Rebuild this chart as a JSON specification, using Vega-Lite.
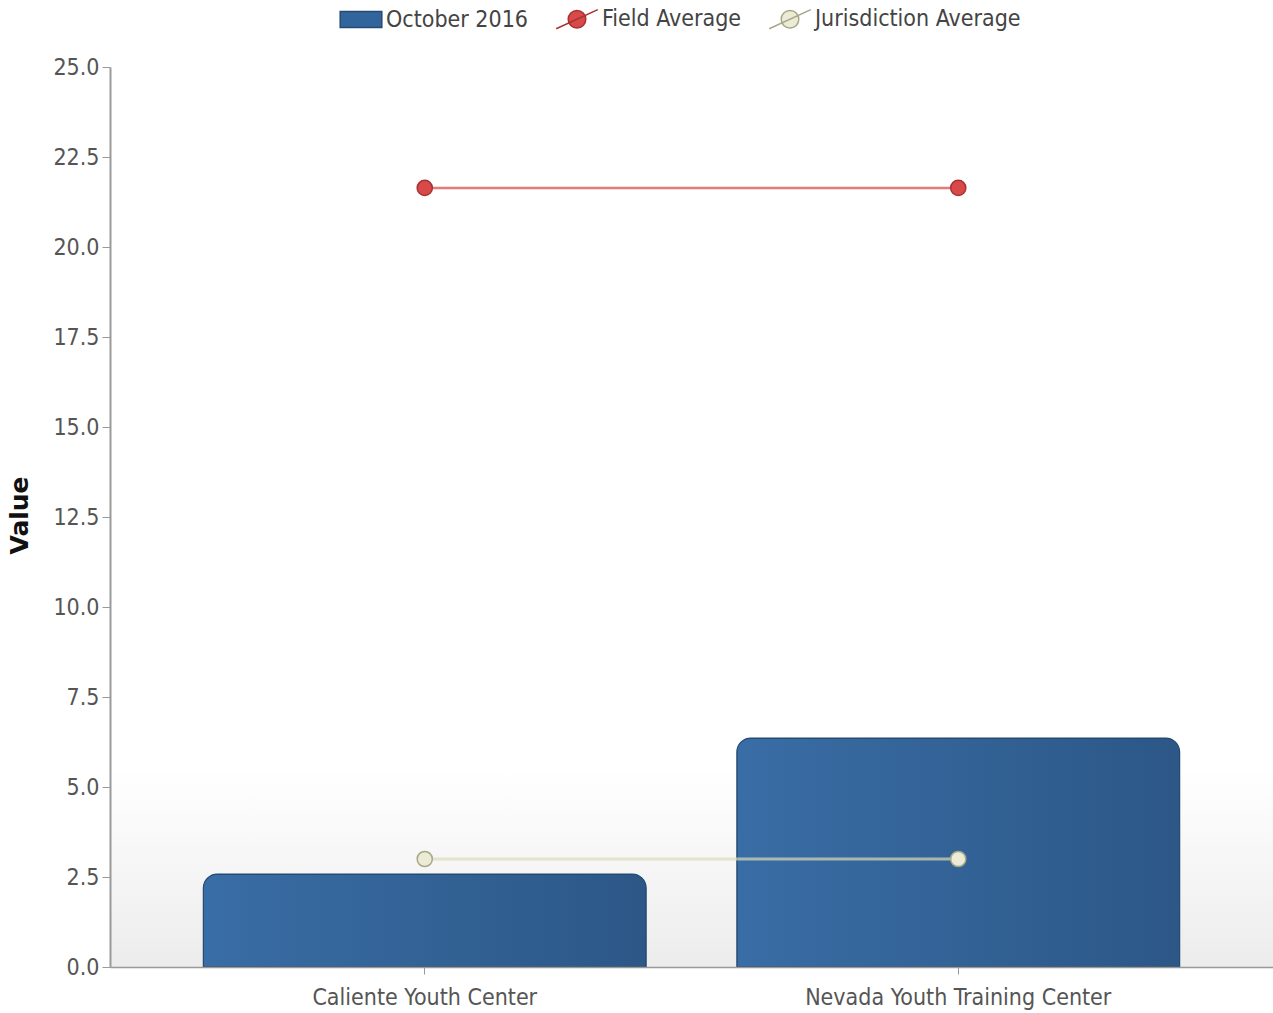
{
  "$schema": "https://vega.github.io/schema/vega-lite/v6.json",
  "width": 1163,
  "height": 900,
  "autosize": {"type": "none"},
  "padding": {"left": 110, "top": 67, "right": 0, "bottom": 46},
  "background": "white",
  "config": {
    "view": {"stroke": null},
    "font": "DejaVu Sans Condensed",
    "axis": {"labelFont": "DejaVu Sans Condensed", "labelColor": "#555555", "labelFontSize": 23, "labelLimit": 0, "domainColor": "#999999", "tickColor": "#999999", "grid": false, "zindex": 1}
  },
  "data": {
    "values": [
      {"facility": "Caliente Youth Center", "series": "October 2016", "value": 2.58},
      {"facility": "Nevada Youth Training Center", "series": "October 2016", "value": 6.36},
      {"facility": "Caliente Youth Center", "series": "Field Average", "value": 21.64},
      {"facility": "Nevada Youth Training Center", "series": "Field Average", "value": 21.64},
      {"facility": "Caliente Youth Center", "series": "Jurisdiction Average", "value": 3.0},
      {"facility": "Nevada Youth Training Center", "series": "Jurisdiction Average", "value": 3.0}
    ]
  },
  "layer": [
    {
      "data": {"values": [{"band": "background"}]},
      "mark": {"type": "rect", "color": {"gradient": "linear", "x1": 0, "y1": 0, "x2": 0, "y2": 1, "stops": [{"offset": 0, "color": "#ffffff"}, {"offset": 0.78, "color": "#ffffff"}, {"offset": 1, "color": "#ececec"}]}},
      "encoding": {
        "y": {"datum": 25, "type": "quantitative", "scale": {"domain": [0, 25], "nice": false}},
        "y2": {"datum": 0}
      }
    },
    {
      "transform": [{"filter": "datum.series === 'October 2016'"}],
      "mark": {"type": "bar", "color": {"gradient": "linear", "x1": 0, "y1": 0, "x2": 1, "y2": 0, "stops": [{"offset": 0, "color": "#396da5"}, {"offset": 1, "color": "#2c5787"}]}, "stroke": "#254a73", "strokeWidth": 1.2, "cornerRadiusTopLeft": 14, "cornerRadiusTopRight": 14},
      "encoding": {
        "x": {
          "field": "facility", "type": "nominal", "sort": null,
          "scale": {"paddingInner": 0.17, "paddingOuter": 0.175},
          "axis": {"title": null, "labelAngle": 0, "tickSize": 7, "labelPadding": 12, "domainWidth": 1.5, "zindex": 1}
        },
        "y": {
          "field": "value", "type": "quantitative",
          "scale": {"domain": [0, 25], "nice": false},
          "axis": {"title": "Value", "values": [0, 2.5, 5, 7.5, 10, 12.5, 15, 17.5, 20, 22.5, 25], "format": ".1f", "tickSize": 8, "labelPadding": 3, "titleFontSize": 25, "titleFont": "DejaVu Sans", "titleFontWeight": "bold", "titleColor": "#111111", "titleX": -91, "titleY": 448, "titleAngle": -90, "titleAlign": "center", "titleBaseline": "middle", "domainWidth": 2, "domainColor": "#9a9a9a", "zindex": 1}
        }
      }
    },
    {
      "transform": [{"filter": "datum.series === 'Field Average'"}],
      "mark": {"type": "line", "color": "#de6262", "strokeWidth": 2.5, "opacity": 0.85},
      "encoding": {
        "x": {"field": "facility", "type": "nominal", "sort": null},
        "y": {"field": "value", "type": "quantitative"}
      }
    },
    {
      "transform": [{"filter": "datum.series === 'Jurisdiction Average'"}],
      "mark": {"type": "line", "color": "#dcdab8", "strokeWidth": 3, "opacity": 0.7},
      "encoding": {
        "x": {"field": "facility", "type": "nominal", "sort": null},
        "y": {"field": "value", "type": "quantitative"}
      }
    },
    {
      "transform": [{"filter": "datum.series !== 'October 2016'"}],
      "mark": {"type": "point", "filled": true, "shape": "circle", "size": 230, "strokeWidth": 1.5, "opacity": 1},
      "encoding": {
        "x": {"field": "facility", "type": "nominal", "sort": null},
        "y": {"field": "value", "type": "quantitative"},
        "color": {
          "field": "series", "type": "nominal",
          "scale": {"domain": ["October 2016", "Field Average", "Jurisdiction Average"], "range": ["#32659b", "#d84a4a", "#ecebd5"]}
        },
        "stroke": {
          "field": "series", "type": "nominal",
          "scale": {"domain": ["October 2016", "Field Average", "Jurisdiction Average"], "range": ["#254a73", "#a83232", "#a8a888"]},
          "legend": null
        }
      }
    },
    {
      "transform": [{"filter": "false"}],
      "mark": {"type": "point", "filled": true, "strokeWidth": 1.5, "opacity": 1},
      "encoding": {
        "x": {"field": "facility", "type": "nominal", "sort": null},
        "y": {"field": "value", "type": "quantitative"},
        "color": {
          "field": "series", "type": "nominal",
          "legend": {
            "title": null, "orient": "none", "direction": "horizontal", "legendX": 234, "legendY": -65,
            "labelFontSize": 23, "labelColor": "#444444", "labelFont": "DejaVu Sans Condensed", "labelLimit": 0,
            "symbolSize": 1024, "labelOffset": 8, "columnPadding": 24, "symbolStrokeWidth": 1.5
          }
        },
        "shape": {
          "field": "series", "type": "nominal",
          "scale": {"domain": ["October 2016", "Field Average", "Jurisdiction Average"], "range": ["M-1.3,-0.5H1.3V0.5H-1.3Z", "M-1.3,0.6L1.3,-0.6M0.55,0A0.55,0.55,0,1,1,-0.55,0A0.55,0.55,0,1,1,0.55,0Z", "M-1.3,0.6L1.3,-0.6M0.55,0A0.55,0.55,0,1,1,-0.55,0A0.55,0.55,0,1,1,0.55,0Z"]},
          "legend": {
            "title": null, "orient": "none", "direction": "horizontal", "legendX": 234, "legendY": -65,
            "labelFontSize": 23, "labelColor": "#444444", "labelFont": "DejaVu Sans Condensed", "labelLimit": 0,
            "symbolSize": 1024, "labelOffset": 8, "columnPadding": 24, "symbolStrokeWidth": 1.5
          }
        },
        "stroke": {"field": "series", "type": "nominal", "legend": null}
      }
    }
  ]
}
